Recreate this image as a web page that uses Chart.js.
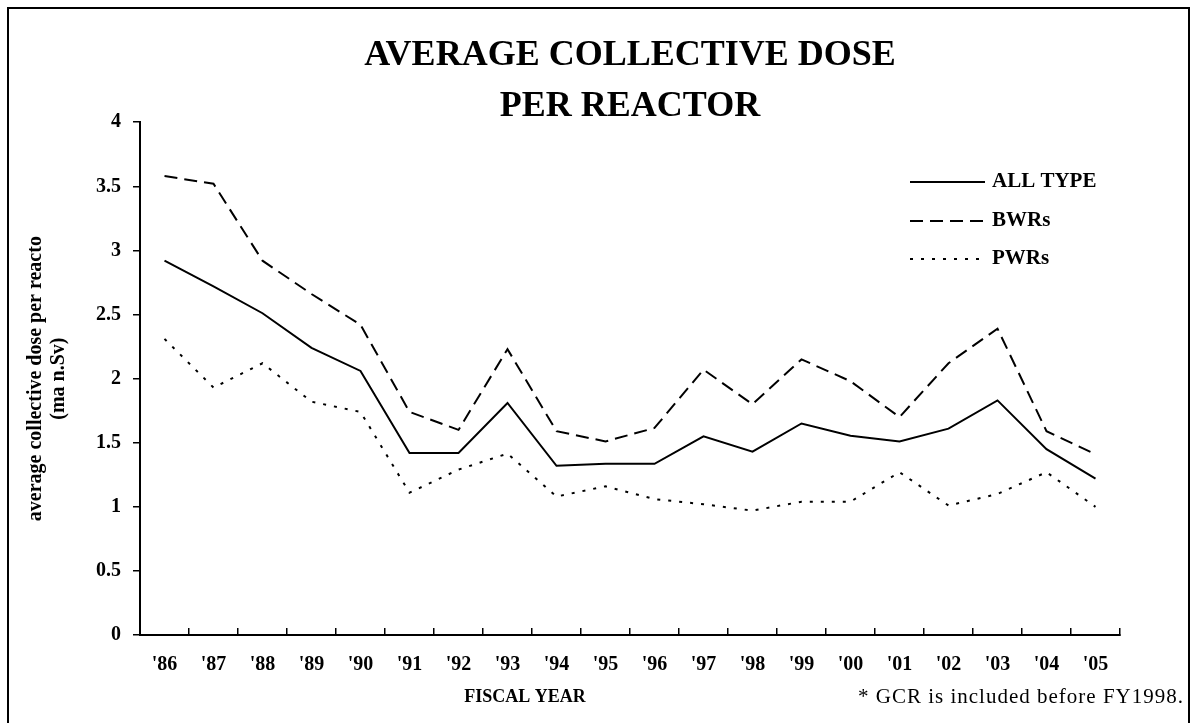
<!DOCTYPE html>
<html>
<head>
<meta charset="utf-8">
<script src="https://cdn.jsdelivr.net/npm/chart.js@4.4.0/dist/chart.umd.min.js"></script>
<style>
  html, body { margin: 0; padding: 0; background: #fff; }
</style>
</head>
<body>
<canvas id="myChart" width="1193" height="723"></canvas>
<script>
const years = ["'86", "'87", "'88", "'89", "'90", "'91", "'92", "'93", "'94", "'95",
               "'96", "'97", "'98", "'99", "'00", "'01", "'02", "'03", "'04", "'05"];

const allType = [2.92, 2.72, 2.51, 2.24, 2.06, 1.42, 1.42, 1.81, 1.32, 1.335,
                 1.335, 1.55, 1.43, 1.65, 1.555, 1.51, 1.61, 1.83, 1.45, 1.22];
const bwrs = [3.58, 3.52, 2.92, 2.66, 2.42, 1.74, 1.60, 2.23, 1.59, 1.51,
              1.615, 2.07, 1.80, 2.15, 1.98, 1.70, 2.12, 2.39, 1.59, 1.41];
const pwrs = [2.31, 1.93, 2.12, 1.82, 1.74, 1.11, 1.29, 1.415, 1.08, 1.16,
              1.06, 1.02, 0.97, 1.04, 1.04, 1.27, 1.01, 1.10, 1.27, 1.00];

const seriesNames = ['ALL TYPE', 'BWRs', 'PWRs'];
const titleLines = ['AVERAGE COLLECTIVE DOSE', 'PER REACTOR'];
const yTitleLines = ['average collective dose per reacto', '(ma n.Sv)'];
const xTitle = 'FISCAL YEAR';
const footnote = '* GCR is included before FY1998.';

const serif = "'Liberation Serif', 'Times New Roman', serif";

// outer frame round the whole picture
const framePlugin = {
    id: 'frame',
    afterDraw(chart) {
        const ctx = chart.ctx;
        ctx.save();
        ctx.strokeStyle = '#000';
        ctx.lineWidth = 2;
        ctx.strokeRect(8, 8, 1181, 740);
        ctx.restore();
    }
};

// legend with line samples, sits inside the plot at top right
const lineLegend = {
    id: 'lineLegend',
    afterDraw(chart) {
        const ctx = chart.ctx;
        const rows = [182, 221, 259];
        ctx.save();
        chart.data.datasets.forEach((ds, i) => {
            ctx.beginPath();
            ctx.setLineDash(ds.borderDash || []);
            ctx.lineWidth = ds.borderWidth;
            ctx.strokeStyle = ds.borderColor;
            ctx.moveTo(910, rows[i]);
            ctx.lineTo(985, rows[i]);
            ctx.stroke();
            ctx.setLineDash([]);
            ctx.fillStyle = '#000';
            ctx.font = `bold 21px ${serif}`;
            ctx.textBaseline = 'middle';
            ctx.textAlign = 'left';
            ctx.fillText(ds.label, 992, rows[i]);
        });
        ctx.restore();
    }
};

// x title and the footnote share one line under the axis
const bottomText = {
    id: 'bottomText',
    afterDraw(chart) {
        const ctx = chart.ctx;
        ctx.save();
        ctx.fillStyle = '#000';
        ctx.textBaseline = 'middle';
        ctx.font = `bold 18px ${serif}`;
        ctx.textAlign = 'center';
        ctx.fillText(xTitle, 525, 697);
        ctx.font = `21px ${serif}`;
        ctx.letterSpacing = '1px';
        ctx.textAlign = 'right';
        ctx.fillText(footnote, 1184, 697);
        ctx.restore();
    }
};

new Chart(document.querySelector('#myChart'), {
    type: 'line',
    data: {
        labels: years,
        datasets: [
            { label: seriesNames[0], data: allType, borderColor: '#000', borderWidth: 2, borderDash: [] },
            { label: seriesNames[1], data: bwrs, borderColor: '#000', borderWidth: 2, borderDash: [13, 7] },
            { label: seriesNames[2], data: pwrs, borderColor: '#000', borderWidth: 2, borderDash: [3, 8] }
        ]
    },
    options: {
        responsive: false,
        animation: false,
        layout: { padding: { left: 34, right: 73, top: 0, bottom: 0 } },
        elements: {
            point: { radius: 0, hoverRadius: 0 },
            line: { tension: 0, fill: false }
        },
        plugins: {
            legend: { display: false },
            tooltip: { enabled: false },
            title: {
                display: true,
                fullSize: false,
                text: titleLines,
                color: '#000',
                font: { family: serif, size: 36, weight: 'bold', lineHeight: 1.42 },
                padding: { top: 30.5, bottom: -10.5 }
            }
        },
        scales: {
            x: {
                type: 'category',
                offset: true,
                grid: { display: true, offset: true, drawOnChartArea: false, drawTicks: true,
                        tickLength: -7, color: '#000', lineWidth: 1.5 },
                border: { display: true, color: '#000', width: 2 },
                ticks: { color: '#000', font: { family: serif, size: 20, weight: 'bold' },
                         padding: 25, maxRotation: 0, autoSkip: false },
                afterFit: (s) => { s.height = 88; }
            },
            y: {
                min: 0,
                max: 4,
                grid: { drawOnChartArea: false, tickLength: 7, color: '#000', lineWidth: 1.5 },
                border: { display: true, color: '#000', width: 2 },
                ticks: { stepSize: 0.5, padding: 12, color: '#000',
                         font: { family: serif, size: 20, weight: 'bold' },
                         callback: (v) => String(v) },
                title: {
                    display: true,
                    text: yTitleLines,
                    color: '#000',
                    font: { family: serif, size: 20, weight: 'bold', lineHeight: 1.15 },
                    padding: { top: -10, bottom: 0 }
                },
                afterFit: (s) => { s.width = 106; }
            }
        }
    },
    plugins: [framePlugin, lineLegend, bottomText]
});
</script>
</body>
</html>
